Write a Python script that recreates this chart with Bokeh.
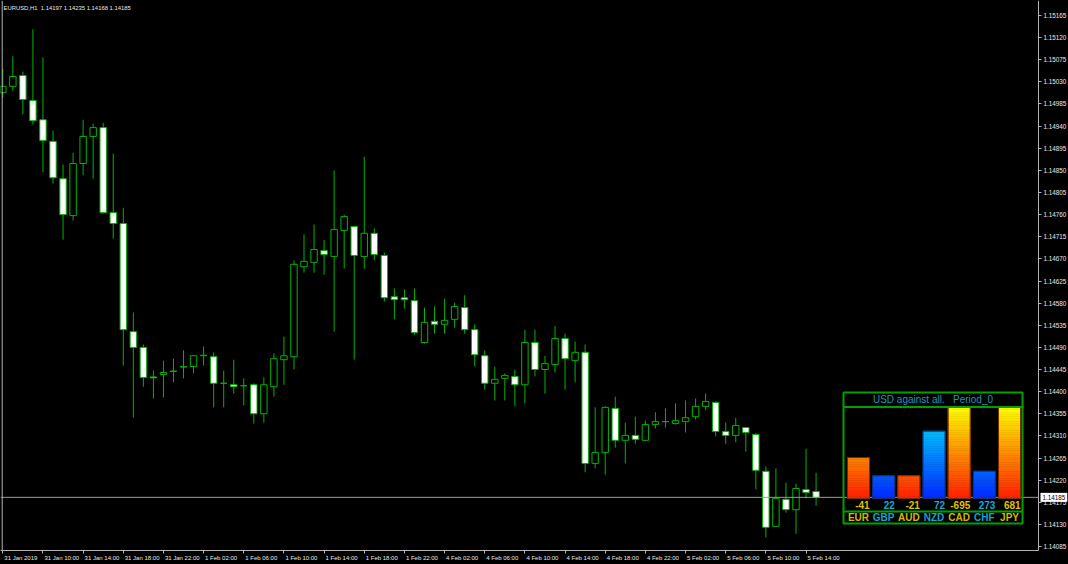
from bokeh.plotting import figure
from bokeh.models import (Range1d, LinearAxis, FixedTicker, PrintfTickFormatter, Span, Label,
                          ColumnDataSource, GlobalInlineStyleSheet)
from bokeh.core.properties import value
from bokeh.embed import file_html
from bokeh.resources import INLINE

# ---------------- data ----------------
symbol_info = "EURUSD,H1\u00a0\u00a01.14197 1.14235 1.14168 1.14185"
last_price = 1.14185

open_ = [1.15008, 1.15021, 1.15043, 1.14992, 1.14953, 1.14909, 1.14833, 1.14758, 1.14864, 1.14919,
         1.14937, 1.14764, 1.14742, 1.14522, 1.14490, 1.14430, 1.14435, 1.14441, 1.14450, 1.14451,
         1.14473, 1.14471, 1.14417, 1.14414, 1.14412, 1.14414, 1.14355, 1.14410, 1.14465, 1.14471,
         1.14654, 1.14663, 1.14687, 1.14675, 1.14728, 1.14736, 1.14675, 1.14722, 1.14677, 1.14593,
         1.14591, 1.14585, 1.14500, 1.14543, 1.14537, 1.14547, 1.14571, 1.14526, 1.14473, 1.14417,
         1.14427, 1.14431, 1.14414, 1.14500, 1.14445, 1.14455, 1.14508, 1.14463, 1.14480, 1.14254,
         1.14276, 1.14366, 1.14301, 1.14311, 1.14301, 1.14333, 1.14339, 1.14335, 1.14339, 1.14349,
         1.14370, 1.14378, 1.14319, 1.14311, 1.14327, 1.14313, 1.14238, 1.14126, 1.14181, 1.14160,
         1.14201, 1.14197]
high = [1.15057, 1.15082, 1.15051, 1.15137, 1.15080, 1.14931, 1.14862, 1.14886, 1.14953, 1.14945,
        1.14947, 1.14884, 1.14774, 1.14561, 1.14496, 1.14443, 1.14463, 1.14467, 1.14484, 1.14475,
        1.14492, 1.14480, 1.14443, 1.14465, 1.14427, 1.14417, 1.14429, 1.14478, 1.14512, 1.14667,
        1.14720, 1.14740, 1.14709, 1.14850, 1.14760, 1.14737, 1.14878, 1.14732, 1.14683, 1.14610,
        1.14608, 1.14610, 1.14571, 1.14573, 1.14589, 1.14581, 1.14596, 1.14537, 1.14484, 1.14451,
        1.14437, 1.14445, 1.14526, 1.14526, 1.14473, 1.14534, 1.14518, 1.14502, 1.14496, 1.14368,
        1.14370, 1.14390, 1.14337, 1.14349, 1.14341, 1.14358, 1.14366, 1.14376, 1.14382, 1.14386,
        1.14396, 1.14380, 1.14337, 1.14347, 1.14328, 1.14315, 1.14248, 1.14244, 1.14215, 1.14213,
        1.14284, 1.14235]
low = [1.14998, 1.15012, 1.14964, 1.14943, 1.14846, 1.14823, 1.14709, 1.14748, 1.14840, 1.14833,
       1.14762, 1.14711, 1.14453, 1.14347, 1.14410, 1.14386, 1.14388, 1.14419, 1.14427, 1.14437,
       1.14453, 1.14368, 1.14368, 1.14396, 1.14372, 1.14335, 1.14337, 1.14390, 1.14414, 1.14445,
       1.14642, 1.14642, 1.14638, 1.14522, 1.14650, 1.14465, 1.14650, 1.14667, 1.14583, 1.14547,
       1.14569, 1.14516, 1.14498, 1.14518, 1.14518, 1.14530, 1.14518, 1.14451, 1.14404, 1.14382,
       1.14382, 1.14370, 1.14376, 1.14431, 1.14396, 1.14439, 1.14404, 1.14419, 1.14236, 1.14244,
       1.14231, 1.14286, 1.14254, 1.14294, 1.14299, 1.14325, 1.14327, 1.14333, 1.14317, 1.14343,
       1.14362, 1.14309, 1.14294, 1.14297, 1.14278, 1.14201, 1.14103, 1.14124, 1.14154, 1.14111,
       1.14183, 1.14168]
close = [1.15021, 1.15041, 1.14994, 1.14951, 1.14911, 1.14835, 1.14760, 1.14864, 1.14919, 1.14937,
         1.14764, 1.14742, 1.14526, 1.14490, 1.14429, 1.14428, 1.14439, 1.14442, 1.14451, 1.14473,
         1.14474, 1.14417, 1.14417, 1.14410, 1.14412, 1.14355, 1.14414, 1.14467, 1.14473, 1.14659,
         1.14665, 1.14689, 1.14679, 1.14730, 1.14756, 1.14677, 1.14722, 1.14679, 1.14591, 1.14587,
         1.14587, 1.14520, 1.14541, 1.14537, 1.14545, 1.14573, 1.14526, 1.14475, 1.14417, 1.14425,
         1.14433, 1.14414, 1.14500, 1.14445, 1.14457, 1.14508, 1.14467, 1.14480, 1.14254, 1.14276,
         1.14368, 1.14301, 1.14311, 1.14303, 1.14333, 1.14339, 1.14339, 1.14341, 1.14347, 1.14370,
         1.14380, 1.14319, 1.14311, 1.14331, 1.14317, 1.14240, 1.14124, 1.14183, 1.14160, 1.14203,
         1.14195, 1.14185]

time_tick_idx = [0, 4, 8, 12, 16, 20, 24, 28, 32, 36, 40, 44, 48, 52, 56, 60, 64, 68, 72, 76, 80]
time_tick_labels = ["31 Jan 2019", "31 Jan 10:00", "31 Jan 14:00", "31 Jan 18:00", "31 Jan 22:00",
                    "1 Feb 02:00", "1 Feb 06:00", "1 Feb 10:00", "1 Feb 14:00", "1 Feb 18:00",
                    "1 Feb 22:00", "4 Feb 02:00", "4 Feb 06:00", "4 Feb 10:00", "4 Feb 14:00",
                    "4 Feb 18:00", "4 Feb 22:00", "5 Feb 02:00", "5 Feb 06:00", "5 Feb 10:00",
                    "5 Feb 14:00"]
price_ticks = [1.14085, 1.14130, 1.14175, 1.14220, 1.14265, 1.14310, 1.14355, 1.14400, 1.14445,
               1.14490, 1.14535, 1.14580, 1.14625, 1.14670, 1.14715, 1.14760, 1.14805, 1.14850,
               1.14895, 1.14940, 1.14985, 1.15030, 1.15075, 1.15120, 1.15165]

panel_title = "USD against all.\u00a0\u00a0\u00a0Period_0"
currencies = ["EUR", "GBP", "AUD", "NZD", "CAD", "CHF", "JPY"]
strength = [45, 25, 25, 74, 100, 30, 100]
strength_text = ["-41", "22", "-21", "72", "-695", "273", "681"]
strength_side = ["neg", "pos", "neg", "pos", "neg", "pos", "neg"]

# ---------------- style ----------------
FONT = "Liberation Sans"
GREEN = "#00b400"
AXIS = "#b4b4b4"
LABEL = "#e8e8e8"
BAR_PX = 10.04          # screen pixels per bar
TIME_FS = 6.0           # px
PRICE_FS = "6.3px"
X0, X1 = -0.229, 106.14  # bar-index range covering the whole width
PRICE_AXIS_AT = 103.16   # bar-index position of the price scale line

p = figure(width=1068, height=564, output_backend="svg", toolbar_location=None,
           x_range=Range1d(X0, X1), y_range=Range1d(1.140769, 1.151955),
           x_axis_location=None, y_axis_location=None,
           background_fill_color="black", border_fill_color="black",
           min_border_left=0, min_border_top=0, min_border_right=0, min_border_bottom=14)
p.outline_line_color = None
p.xgrid.grid_line_color = None
p.ygrid.grid_line_color = None
p.stylesheets = [GlobalInlineStyleSheet(css="html, body {margin:0; padding:0; background:#000; overflow:hidden;}")]

yaxis = LinearAxis(ticker=FixedTicker(ticks=price_ticks), formatter=PrintfTickFormatter(format="%.5f"),
                   fixed_location=PRICE_AXIS_AT,
                   axis_line_color=AXIS, major_tick_line_color=AXIS, major_tick_out=3, major_tick_in=0,
                   minor_tick_line_color=None, major_label_text_color=LABEL,
                   major_label_text_font=FONT, major_label_text_font_size=PRICE_FS, major_label_standoff=2)
p.add_layout(yaxis, "right")

# time scale: one axis for the line and tick marks, one for left-aligned labels
xaxis_ticks = LinearAxis(ticker=FixedTicker(ticks=time_tick_idx), bounds=(X0, PRICE_AXIS_AT),
                         major_label_overrides={i: "" for i in time_tick_idx},
                         axis_line_color=AXIS, major_tick_line_color=AXIS, major_tick_out=3, major_tick_in=0,
                         minor_tick_line_color=None, major_label_text_font_size="1px",
                         major_label_standoff=0)
p.add_layout(xaxis_ticks, "below")

EM = {"0": .556, "1": .556, "2": .556, "3": .556, "4": .556, "5": .556, "6": .556, "7": .556,
      "8": .556, "9": .556, " ": .278, ":": .278, "J": .5, "a": .556, "n": .556, "F": .611,
      "e": .556, "b": .556}


def label_center(idx, s):
    w = sum(EM.get(ch, .556) for ch in s) * TIME_FS
    return round(idx + (1.5 + w / 2) / BAR_PX, 3)


lab_pos = [label_center(i, s) for i, s in zip(time_tick_idx, time_tick_labels)]
xaxis_labels = LinearAxis(ticker=FixedTicker(ticks=lab_pos),
                          major_label_overrides={pos: s for pos, s in zip(lab_pos, time_tick_labels)},
                          axis_line_color=None, major_tick_line_color=None, major_tick_out=0,
                          major_tick_in=0, minor_tick_line_color=None, major_label_text_color=LABEL,
                          major_label_text_font=FONT, major_label_text_font_size="%gpx" % TIME_FS,
                          major_label_standoff=1)
p.add_layout(xaxis_labels, "below")

# left frame border
p.add_layout(Span(location=-0.06, dimension="height", line_color=AXIS, line_width=1))

# candles
bar_x = list(range(len(open_)))
src = ColumnDataSource(dict(
    x=bar_x, o=open_, h=high, l=low, c=close,
    top=[max(a, b) for a, b in zip(open_, close)],
    bottom=[min(a, b) for a, b in zip(open_, close)],
    fill=["white" if c < o else "black" for o, c in zip(open_, close)],
))
p.segment(x0="x", y0="l", x1="x", y1="h", source=src, line_color=GREEN, line_width=1)
p.vbar(x="x", width=0.64, top="top", bottom="bottom", fill_color="fill", line_color=GREEN,
       line_width=1, source=src)

# current price line and marker
p.segment(x0=[X0], x1=[PRICE_AXIS_AT], y0=[last_price], y1=[last_price], line_color="#9a9a9a", line_width=1)
p.add_layout(Label(x=1040, y=last_price, x_units="screen", y_units="data", text="%.5f" % last_price,
                   text_color="black", background_fill_color="white", text_font=FONT,
                   text_font_size=PRICE_FS, text_baseline="middle", text_align="left", level="overlay",
                   padding=2))

# symbol info
p.add_layout(Label(x=3, y=543, x_units="screen", y_units="screen", text=symbol_info,
                   text_color=LABEL, text_font=FONT, text_font_size="5.9px", text_baseline="middle"))

# ---------------- strength panel ----------------
p.extra_x_ranges = {"panel": Range1d(-34.088, 8.343)}
p.extra_y_ranges = {"panel": Range1d(-57.1, 547.3)}
PK = dict(x_range_name="panel", y_range_name="panel")

sl, sr, sb, st, sc = [], [], [], [], []
step = 2.5
for i, (v, side) in enumerate(zip(strength, strength_side)):
    j = 0
    while j * step < v:
        b = j * step
        t = min(v, (j + 1) * step)
        f = (b + t) / 2 / 100.0
        if side == "neg":
            col = "#%02x%02x%02x" % (255, int(30 + 225 * f), 0)
        else:
            col = "#%02x%02x%02x" % (0, int(40 + 200 * f), 255)
        sl.append(i - 0.437); sr.append(i + 0.437); sb.append(b); st.append(t); sc.append(col)
        j += 1
p.quad(left=sl, right=sr, bottom=sb, top=st, fill_color=sc, line_color=sc, line_width=0.6, **PK)
p.quad(left=[i - 0.437 for i in range(len(strength))], right=[i + 0.437 for i in range(len(strength))],
       bottom=[0] * len(strength), top=strength, fill_color=None,
       line_color=["#7a2a00" if s == "neg" else "#10307a" for s in strength_side], line_width=1, **PK)

PANEL_GREEN = "#00a000"
p.quad(left=[-0.596], right=[6.516], bottom=[-27.5], top=[116.5], fill_color=None,
       line_color=PANEL_GREEN, line_width=2, **PK)
p.segment(x0=[-0.596, -0.596], x1=[6.516, 6.516], y0=[100.6, -14.3], y1=[100.6, -14.3],
          line_color=PANEL_GREEN, line_width=2, **PK)

p.text(x=[2.96], y=[108.4], text=[panel_title], text_color="#1898bc", text_font=value("Liberation Sans"),
       text_font_size="10px", text_align="center", text_baseline="middle", **PK)
p.text(x=[i + 0.44 for i in range(len(strength))], y=[-7.3] * len(strength), text=strength_text,
       text_color=["#e0c000" if s == "neg" else "#14a8dc" for s in strength_side],
       text_font=value("Liberation Sans"), text_font_size="10px", text_font_style="bold",
       text_align="right", text_baseline="middle", **PK)
p.text(x=list(range(len(currencies))), y=[-21.0] * len(currencies), text=currencies,
       text_color=["#d8b400" if k % 2 == 0 else "#14a0d4" for k in range(len(currencies))],
       text_font=value("Liberation Sans"), text_font_size="10px", text_font_style="bold",
       text_align="center", text_baseline="middle", **PK)

open("out.html", "w").write(file_html(p, INLINE))
